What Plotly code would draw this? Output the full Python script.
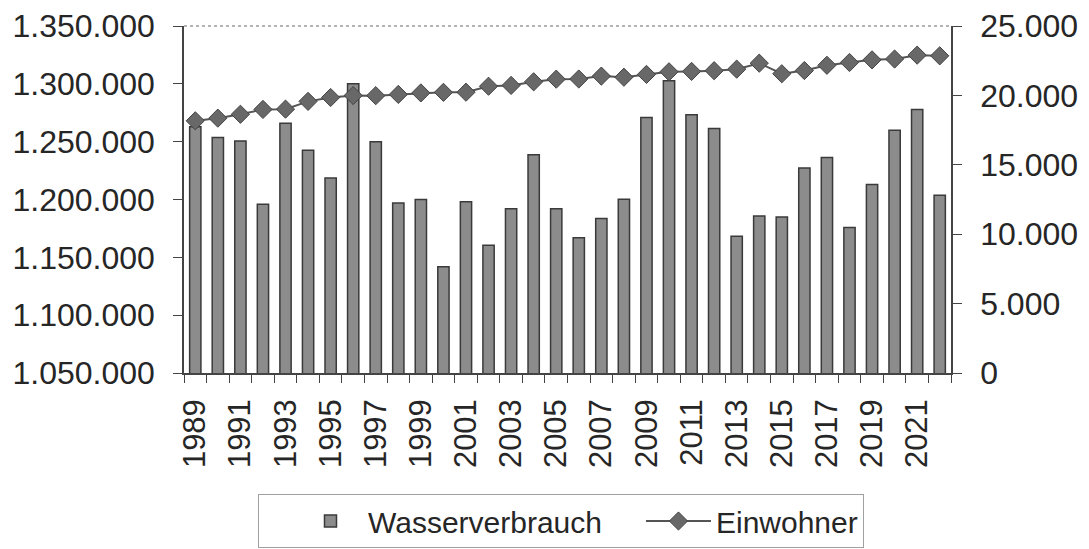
import plotly.graph_objects as go

years = [str(y) for y in range(1989, 2023)]
wasserverbrauch = [1263000, 1253500, 1250500, 1196000, 1266000, 1242500, 1218500, 1300000,
                   1250000, 1197000, 1200000, 1141800, 1198000, 1160500, 1192000, 1238600,
                   1192000, 1167000, 1183500, 1200300, 1271000, 1302600, 1273200, 1261400,
                   1168300, 1185700, 1184800, 1227300, 1236400, 1175800, 1212900, 1259800,
                   1277800, 1203700]
einwohner = [18170, 18360, 18640, 18990, 19010, 19570, 19850, 19990, 19980, 20070,
             20180, 20220, 20230, 20660, 20720, 20980, 21170, 21180, 21390, 21310,
             21510, 21700, 21730, 21780, 21890, 22320, 21560, 21790, 22170, 22370,
             22560, 22620, 22900, 22850]
x_ticktext = [y if int(y) % 2 == 1 else "" for y in years]
left_ticks = [1050000, 1100000, 1150000, 1200000, 1250000, 1300000, 1350000]
right_ticks = [0, 5000, 10000, 15000, 20000, 25000]
left_range = [1050000, 1350000]
right_range = [0, 25000]

FONT = "Liberation Sans, Arial, sans-serif"

fig = go.Figure()
fig.add_trace(go.Bar(
    x=years, y=wasserverbrauch, name="Wasserverbrauch",
    marker=dict(color="#8c8c8c", line=dict(color="#3a3a3a", width=1.5)),
    yaxis="y",
))
fig.add_trace(go.Scatter(
    x=years, y=einwohner, name="Einwohner", mode="lines+markers",
    line=dict(color="#555555", width=2),
    marker=dict(symbol="diamond", size=14, color="#686868", line=dict(color="#444444", width=1)),
    yaxis="y2",
))

n = len(years)

fig.update_layout(
    width=1089, height=549,
    paper_bgcolor="white", plot_bgcolor="white",
    margin=dict(l=184, r=138, t=26, b=176, autoexpand=False),
    separators=",.",
    font=dict(family=FONT, size=31, color="#262626"),
    bargap=0.5,
    showlegend=True,
    legend=dict(
        orientation="h",
        xref="container", yref="container",
        x=258 / 1089, xanchor="left",
        y=1 - 494 / 549, yanchor="top",
        bordercolor="#a0a0a0", borderwidth=1, bgcolor="white",
        font=dict(family=FONT, size=30, color="#262626"),
        itemwidth=65,
        indentation=34,
    ),
    xaxis=dict(
        type="category", range=[-0.5, n - 0.5],
        tickmode="array", tickvals=years, ticktext=x_ticktext,
        tickangle=-90, tickson="boundaries",
        ticks="outside", ticklen=8, tickcolor="#444", tickwidth=1,
        ticklabelstandoff=12,
        showline=True, linecolor="#444", linewidth=1.5,
        showgrid=False, zeroline=False,
        tickfont=dict(size=31),
    ),
    yaxis=dict(
        range=left_range, tickmode="array", tickvals=left_ticks,
        tickformat=",d",
        ticks="outside", ticklen=9, tickcolor="#444", tickwidth=1,
        ticklabelstandoff=12,
        showline=True, linecolor="#444", linewidth=1.5,
        showgrid=False, zeroline=False,
        tickfont=dict(size=32),
    ),
    yaxis2=dict(
        range=right_range, tickmode="array", tickvals=right_ticks,
        tickformat=",d",
        overlaying="y", side="right",
        ticks="outside", ticklen=9, tickcolor="#444", tickwidth=1,
        ticklabelstandoff=12,
        showline=True, linecolor="#444", linewidth=1.5,
        showgrid=False, zeroline=False,
        tickfont=dict(size=32),
    ),
    shapes=[dict(type="line", xref="paper", yref="paper", x0=0, x1=1, y0=1, y1=1,
                 line=dict(color="#9a9a9a", width=1.5, dash="dot"))],
)

fig.write_html("out.html", config={"displayModeBar": False},
               post_script="document.body.style.margin='0px';")
